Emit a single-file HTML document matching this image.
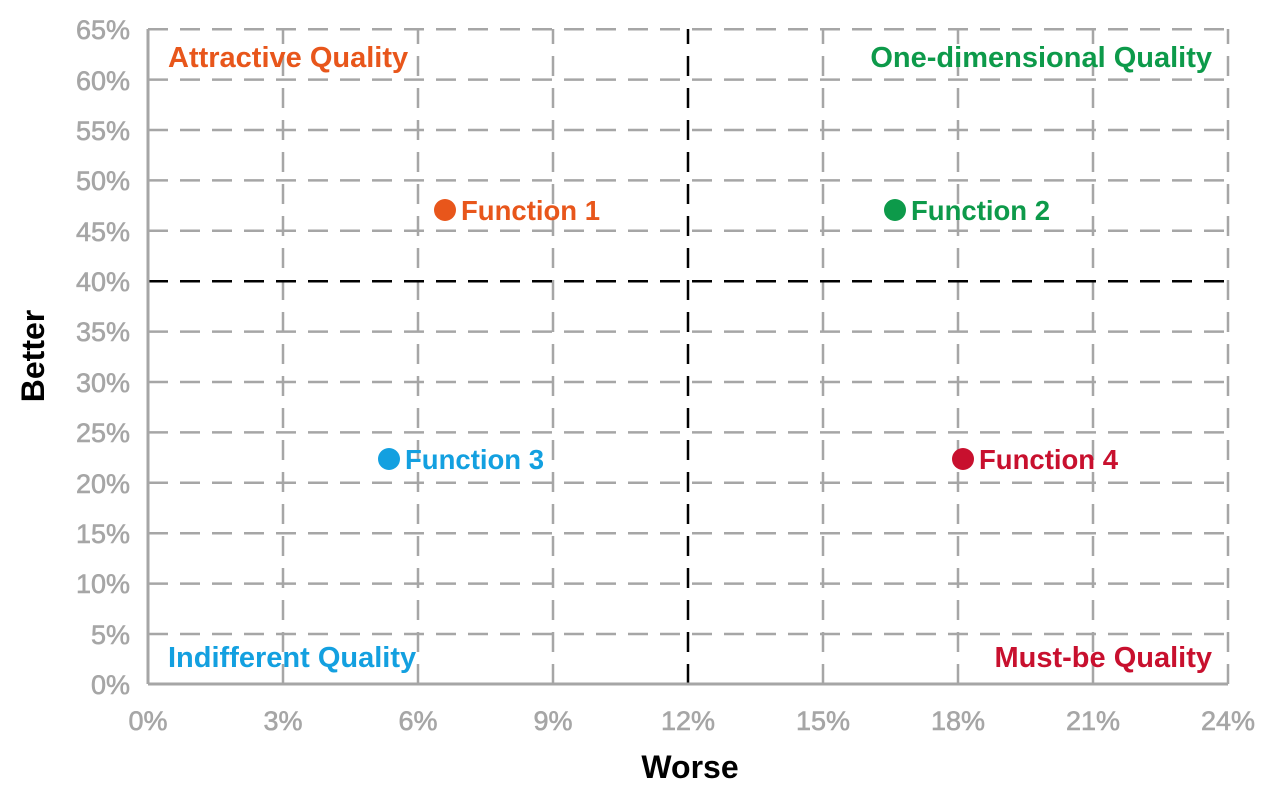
<!DOCTYPE html><html><head><style>body{margin:0;background:#fff}</style></head><body>
<svg width="1280" height="791" xmlns="http://www.w3.org/2000/svg" font-family="Liberation Sans, sans-serif">
<g stroke="#a6a6a6" stroke-width="2.5" stroke-dasharray="20,12" fill="none">
<line x1="148" y1="634" x2="1228" y2="634"/><line x1="148" y1="583.6" x2="1228" y2="583.6"/><line x1="148" y1="533.2" x2="1228" y2="533.2"/><line x1="148" y1="482.8" x2="1228" y2="482.8"/><line x1="148" y1="432.4" x2="1228" y2="432.4"/><line x1="148" y1="382" x2="1228" y2="382"/><line x1="148" y1="331.6" x2="1228" y2="331.6"/><line x1="148" y1="230.8" x2="1228" y2="230.8"/><line x1="148" y1="180.4" x2="1228" y2="180.4"/><line x1="148" y1="130" x2="1228" y2="130"/><line x1="148" y1="79.6" x2="1228" y2="79.6"/><line x1="148" y1="29.2" x2="1228" y2="29.2"/>
<line x1="283" y1="684" x2="283" y2="29"/><line x1="418" y1="684" x2="418" y2="29"/><line x1="553" y1="684" x2="553" y2="29"/><line x1="823" y1="684" x2="823" y2="29"/><line x1="958" y1="684" x2="958" y2="29"/><line x1="1093" y1="684" x2="1093" y2="29"/><line x1="1228" y1="684" x2="1228" y2="29"/>
</g>
<g stroke="#000" stroke-width="2.5" stroke-dasharray="20,12"><line x1="148" y1="281.2" x2="1228" y2="281.2"/><line x1="688" y1="684" x2="688" y2="29"/></g>
<g stroke="#a6a6a6" stroke-width="3"><line x1="148" y1="684" x2="1228" y2="684"/><line x1="148" y1="684" x2="148" y2="29"/></g>
<g fill="#a6a6a6" stroke="#a6a6a6" stroke-width="0.6" font-size="27" text-anchor="end">
<text x="130" y="694">0%</text><text x="130" y="644">5%</text><text x="130" y="593">10%</text><text x="130" y="543">15%</text><text x="130" y="493">20%</text><text x="130" y="442">25%</text><text x="130" y="392">30%</text><text x="130" y="341">35%</text><text x="130" y="291">40%</text><text x="130" y="241">45%</text><text x="130" y="190">50%</text><text x="130" y="140">55%</text><text x="130" y="90">60%</text><text x="130" y="39">65%</text>
</g>
<g fill="#a6a6a6" stroke="#a6a6a6" stroke-width="0.6" font-size="27" text-anchor="middle">
<text x="148" y="730">0%</text><text x="283" y="730">3%</text><text x="418" y="730">6%</text><text x="553" y="730">9%</text><text x="688" y="730">12%</text><text x="823" y="730">15%</text><text x="958" y="730">18%</text><text x="1093" y="730">21%</text><text x="1228" y="730">24%</text>
</g>
<text x="690" y="778" font-size="32" font-weight="bold" text-anchor="middle">Worse</text>
<text transform="translate(44,356) rotate(-90)" font-size="32" font-weight="bold" text-anchor="middle">Better</text>
<g font-size="29" font-weight="bold">
<text x="168" y="67" fill="#e8561b">Attractive Quality</text>
<text x="1212" y="67" fill="#0d9a4a" text-anchor="end">One-dimensional Quality</text>
<text x="168" y="667" fill="#13a0e0">Indifferent Quality</text>
<text x="1212" y="667" fill="#c8102e" text-anchor="end">Must-be Quality</text>
</g>
<g font-size="27.5" font-weight="bold">
<circle cx="445" cy="210" r="11" fill="#e8561b"/><text x="461" y="220" fill="#e8561b">Function 1</text>
<circle cx="895" cy="210" r="11" fill="#0d9a4a"/><text x="911" y="220" fill="#0d9a4a">Function 2</text>
<circle cx="389" cy="459" r="11" fill="#13a0e0"/><text x="405" y="469" fill="#13a0e0">Function 3</text>
<circle cx="963" cy="459" r="11" fill="#c8102e"/><text x="979" y="469" fill="#c8102e">Function 4</text>
</g>
</svg></body></html>
